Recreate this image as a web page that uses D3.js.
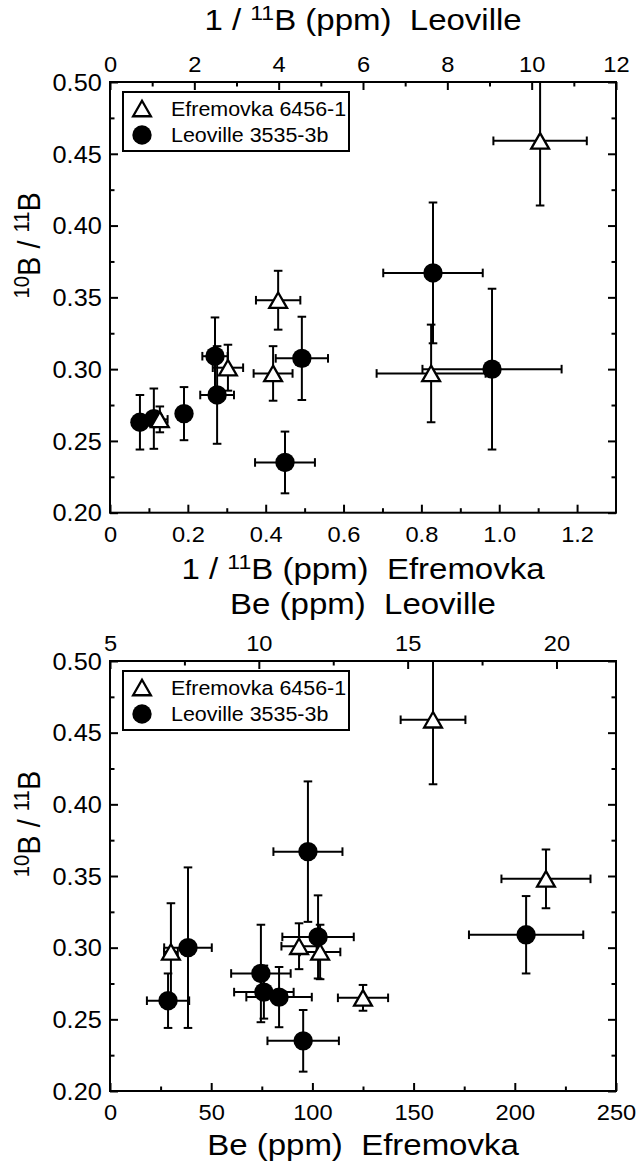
<!DOCTYPE html>
<html><head><meta charset="utf-8">
<script src="https://cdn.jsdelivr.net/npm/d3@7"></script>
<style>
body{margin:0;background:#fff}
svg{display:block}
text{font-family:"Liberation Sans",Arial,Helvetica,sans-serif;fill:#000}
</style>
</head><body>
<svg id="chart" width="638" height="1168"></svg>
<script>
// ---------- DATA ----------
// Efremovka 6456-1 (open triangles)
const efremovkaRatio    = [0.265, 0.301, 0.348, 0.297, 0.297, 0.459];
const efremovkaRatioErr = [0.009, 0.016, 0.0205, 0.019, 0.034, 0.045];
const efremovkaInvB     = [0.128, 0.303, 0.432, 0.419, 0.825, 1.105];
const efremovkaInvBErr  = [0.02, 0.039, 0.057, 0.05, 0.14, 0.12];
const efremovkaBe       = [125, 93.4, 215.4, 103.8, 30.1, 159.6];
const efremovkaBeErr    = [12.4, 8.7, 22, 10, 3.4, 16];

// Leoville 3535-3b (filled circles)
const leovilleRatio    = [0.263, 0.2655, 0.269, 0.309, 0.282, 0.3075, 0.235, 0.367, 0.300];
const leovilleRatioErr = [0.019, 0.021, 0.0185, 0.027, 0.034, 0.029, 0.0215, 0.049, 0.056];
const leovilleInvB     = [0.71, 1.04, 1.755, 2.49, 2.54, 4.55, 4.15, 7.66, 9.06];
const leovilleInvBErr  = [0.15, 0.15, 0.15, 0.3, 0.4, 0.62, 0.71, 1.18, 1.65];
const leovilleBe       = [6.95, 10.68, 10.17, 18.98, 10.07, 11.99, 11.49, 11.65, 7.62];
const leovilleBeErr    = [0.71, 1.1, 1.0, 1.92, 1.0, 1.2, 1.2, 1.16, 0.8];

// Axis ticks and labels
const ratioTicks      = [0.20, 0.25, 0.30, 0.35, 0.40, 0.45, 0.50];
const ratioTickLabels = ["0.20", "0.25", "0.30", "0.35", "0.40", "0.45", "0.50"];
const ratioMinor      = [0.225, 0.275, 0.325, 0.375, 0.425, 0.475];

const invBEfTicks      = [0, 0.2, 0.4, 0.6, 0.8, 1.0, 1.2];
const invBEfTickLabels = ["0", "0.2", "0.4", "0.6", "0.8", "1.0", "1.2"];
const invBEfMinor      = [0.1, 0.3, 0.5, 0.7, 0.9, 1.1];

const invBLeoTicks      = [0, 2, 4, 6, 8, 10, 12];
const invBLeoTickLabels = ["0", "2", "4", "6", "8", "10", "12"];
const invBLeoMinor      = [1, 3, 5, 7, 9, 11];

const beEfTicks      = [0, 50, 100, 150, 200, 250];
const beEfTickLabels = ["0", "50", "100", "150", "200", "250"];
const beEfMinor      = [25, 75, 125, 175, 225];

const beLeoTicks      = [5, 10, 15, 20];
const beLeoTickLabels = ["5", "10", "15", "20"];
const beLeoMinor      = [7.5, 12.5, 17.5];

const legendLabels = ["Efremovka 6456-1", "Leoville 3535-3b"];

// ---------- DRAWING ----------
const svg = d3.select("#chart");
svg.append("rect").attr("width", 638).attr("height", 1168).attr("fill", "#fff");
const FONT = '"Liberation Sans", Arial, Helvetica, sans-serif';
const SX = 1.1;
const SUP = 0.34;

function richText(parent, x, y, parts, fs, anchor, transformExtra) {
  const g = parent.append("g").attr("transform", `translate(${x},${y}) ` + (transformExtra || `scale(${SX},1)`));
  const t = g.append("text").attr("text-anchor", anchor).attr("font-size", fs)
    .attr("font-family", FONT).style("white-space", "pre");
  let shift = 0;
  parts.forEach(p => {
    const ts = t.append("tspan").text(p.t);
    if (p.sup) {
      ts.attr("font-size", fs * 0.7).attr("dy", -SUP * fs - shift);
      shift = -SUP * fs;
    } else {
      if (shift !== 0) ts.attr("dy", -shift);
      shift = 0;
    }
  });
  return g;
}

const triH = 15.5, triW = 17.8;
function trianglePath() {
  return d3.line()([[0, -triH / 2], [triW / 2, triH / 2], [-triW / 2, triH / 2]]) + "Z";
}

function drawPanel(cfg) {
  const { left, right, top, bottom } = cfg.box;
  const x = d3.scaleLinear().domain(cfg.xBottomDomain).range([left, right]);
  const xt = d3.scaleLinear().domain(cfg.xTopDomain).range([left, right]);
  const y = d3.scaleLinear().domain([0.20, 0.50]).range([bottom, top]);
  const g = svg.append("g");

  const clipId = "clip" + cfg.id;
  svg.append("clipPath").attr("id", clipId).append("rect")
    .attr("x", left).attr("y", top).attr("width", right - left).attr("height", bottom - top);

  const data = g.append("g").attr("clip-path", `url(#${clipId})`);
  const cap = 4.3;

  function errorBars(layer, pts) {
    pts.forEach(p => {
      const seg = (x1, y1, x2, y2) => layer.append("line")
        .attr("x1", x1).attr("y1", y1).attr("x2", x2).attr("y2", y2)
        .attr("stroke", "#000").attr("stroke-width", 2);
      seg(p.x0, p.py, p.x1, p.py);
      seg(p.x0, p.py - cap, p.x0, p.py + cap);
      seg(p.x1, p.py - cap, p.x1, p.py + cap);
      seg(p.px, p.y0, p.px, p.y1);
      seg(p.px - cap, p.y0, p.px + cap, p.y0);
      seg(p.px - cap, p.y1, p.px + cap, p.y1);
    });
  }

  // Leoville circles (top axis)
  const leoPts = leovilleRatio.map((r, i) => {
    const vx = cfg.leoX[i], ex = cfg.leoXErr[i], er = leovilleRatioErr[i];
    return { px: xt(vx), py: y(r), x0: xt(vx - ex), x1: xt(vx + ex), y0: y(r + er), y1: y(r - er) };
  });
  errorBars(data.append("g"), leoPts);
  data.append("g").selectAll("circle").data(leoPts).join("circle")
    .attr("cx", d => d.px).attr("cy", d => d.py).attr("r", 9.7).attr("fill", "#000");

  // Efremovka triangles (bottom axis)
  const efPts = efremovkaRatio.map((r, i) => {
    const vx = cfg.efX[i], ex = cfg.efXErr[i], er = efremovkaRatioErr[i];
    return { px: x(vx), py: y(r), x0: x(vx - ex), x1: x(vx + ex), y0: y(r + er), y1: y(r - er) };
  });
  errorBars(data.append("g"), efPts);
  data.append("g").selectAll("path").data(efPts).join("path")
    .attr("d", trianglePath())
    .attr("transform", d => `translate(${d.px},${d.py})`)
    .attr("fill", "#fff").attr("stroke", "#000").attr("stroke-width", 2.3)
    .attr("stroke-linejoin", "miter");

  // Axes
  function styleAxis(sel, fs, stretch) {
    sel.select(".domain").remove();
    sel.selectAll("line").attr("stroke", "#000").attr("stroke-width", 2);
    sel.selectAll("text").attr("font-size", fs).attr("font-family", FONT).attr("fill", "#000");
    if (stretch) sel.selectAll("text").attr("transform", `scale(${SX},1)`);
  }
  const axG = g.append("g");
  // bottom
  axG.append("g").attr("transform", `translate(0,${bottom})`)
    .call(d3.axisBottom(x).tickValues(cfg.xBottomTicks).tickSize(-8).tickPadding(14.2)
      .tickFormat((d, i) => cfg.xBottomLabels[i]))
    .call(s => styleAxis(s, 21.5, true));
  axG.append("g").attr("transform", `translate(0,${bottom})`)
    .call(d3.axisBottom(x).tickValues(cfg.xBottomMinor).tickSize(-4.5).tickFormat(""))
    .call(s => styleAxis(s, 21.5, false));
  // top
  axG.append("g").attr("transform", `translate(0,${top})`)
    .call(d3.axisTop(xt).tickValues(cfg.xTopTicks).tickSize(-8).tickPadding(10)
      .tickFormat((d, i) => cfg.xTopLabels[i]))
    .call(s => styleAxis(s, 21.5, true));
  axG.append("g").attr("transform", `translate(0,${top})`)
    .call(d3.axisTop(xt).tickValues(cfg.xTopMinor).tickSize(-4.5).tickFormat(""))
    .call(s => styleAxis(s, 21.5, false));
  // left
  axG.append("g").attr("transform", `translate(${left},0)`)
    .call(d3.axisLeft(y).tickValues(ratioTicks).tickSize(-8).tickPadding(7.5)
      .tickFormat((d, i) => ratioTickLabels[i]))
    .call(s => { styleAxis(s, 23, true); s.selectAll("text").attr("dy", "0.36em"); });
  axG.append("g").attr("transform", `translate(${left},0)`)
    .call(d3.axisLeft(y).tickValues(ratioMinor).tickSize(-4.5).tickFormat(""))
    .call(s => styleAxis(s, 23, false));
  // right
  axG.append("g").attr("transform", `translate(${right},0)`)
    .call(d3.axisRight(y).tickValues(ratioTicks).tickSize(-8).tickFormat(""))
    .call(s => styleAxis(s, 23, false));
  axG.append("g").attr("transform", `translate(${right},0)`)
    .call(d3.axisRight(y).tickValues(ratioMinor).tickSize(-4.5).tickFormat(""))
    .call(s => styleAxis(s, 23, false));

  // frame
  g.append("rect").attr("x", left).attr("y", top).attr("width", right - left).attr("height", bottom - top)
    .attr("fill", "none").attr("stroke", "#000").attr("stroke-width", 2);

  // legend
  const lg = g.append("g");
  lg.append("rect").attr("x", left + 13).attr("y", top + 10).attr("width", 226).attr("height", 59)
    .attr("fill", "#fff").attr("stroke", "#000").attr("stroke-width", 2);
  lg.append("path").attr("d", trianglePath())
    .attr("transform", `translate(${left + 32},${top + 26.5})`)
    .attr("fill", "#fff").attr("stroke", "#000").attr("stroke-width", 2.3);
  lg.append("circle").attr("cx", left + 32).attr("cy", top + 53).attr("r", 9.7).attr("fill", "#000");
  richText(lg, left + 61, top + 33.5, [{ t: legendLabels[0] }], 19.5, "start");
  richText(lg, left + 61, top + 59.5, [{ t: legendLabels[1] }], 19.5, "start");

  // y label
  const cy = (top + bottom) / 2 - 52;
  richText(g, 40, cy, [{ t: "10", sup: true }, { t: "B / " }, { t: "11", sup: true }, { t: "B" }], 29,
    "middle", "rotate(-90) scale(1,1.1)");

  // axis titles
  const cx = (left + right) / 2;
  richText(g, cx, top + cfg.topTitleOffset, cfg.topTitle, 30, "middle");
  richText(g, cx, bottom + cfg.bottomTitleOffset, cfg.bottomTitle, 30, "middle");
}

drawPanel({
  id: "top",
  box: { left: 110, right: 616, top: 82, bottom: 512.7 },
  xBottomDomain: [0, 1.3], xBottomTicks: invBEfTicks, xBottomLabels: invBEfTickLabels, xBottomMinor: invBEfMinor,
  xTopDomain: [0, 12], xTopTicks: invBLeoTicks, xTopLabels: invBLeoTickLabels, xTopMinor: invBLeoMinor,
  efX: efremovkaInvB, efXErr: efremovkaInvBErr,
  leoX: leovilleInvB, leoXErr: leovilleInvBErr,
  topTitle: [{ t: "1 / " }, { t: "11", sup: true }, { t: "B (ppm)  Leoville" }],
  bottomTitle: [{ t: "1 / " }, { t: "11", sup: true }, { t: "B (ppm)  Efremovka" }],
  topTitleOffset: -52, bottomTitleOffset: 66
});

drawPanel({
  id: "bottom",
  box: { left: 110, right: 616, top: 661, bottom: 1091 },
  xBottomDomain: [0, 250], xBottomTicks: beEfTicks, xBottomLabels: beEfTickLabels, xBottomMinor: beEfMinor,
  xTopDomain: [5, 22], xTopTicks: beLeoTicks, xTopLabels: beLeoTickLabels, xTopMinor: beLeoMinor,
  efX: efremovkaBe, efXErr: efremovkaBeErr,
  leoX: leovilleBe, leoXErr: leovilleBeErr,
  topTitle: [{ t: "Be (ppm)  Leoville" }],
  bottomTitle: [{ t: "Be (ppm)  Efremovka" }],
  topTitleOffset: -47, bottomTitleOffset: 64
});
</script>
</body></html>
